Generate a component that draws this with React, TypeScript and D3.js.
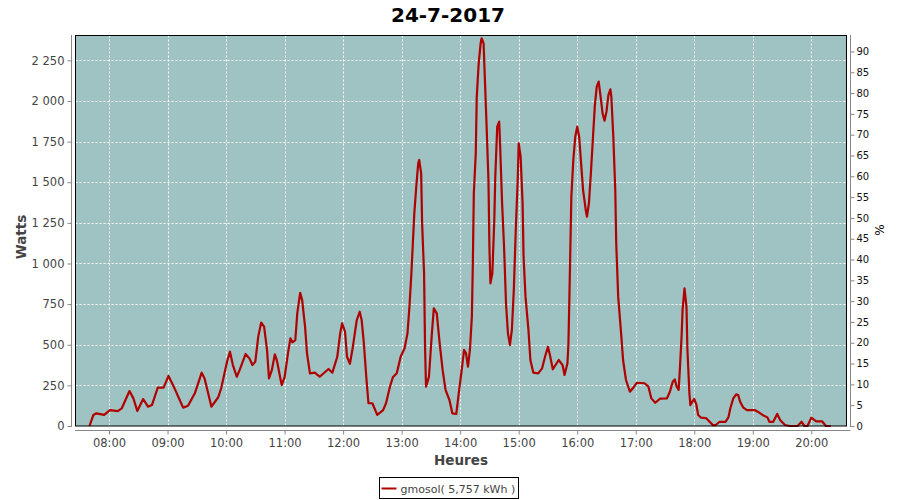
import { useEffect, useRef } from "react";
import * as d3 from "d3";

const chartTitle = "24-7-2017";
const legendLabel = "gmosol( 5,757 kWh )";

// one reading per entry: clock time and power in watts
const times = [
  "07:40", "07:44", "07:47", "07:55", "08:01", "08:09", "08:13", "08:21", "08:25", "08:29",
  "08:35", "08:40", "08:44", "08:50", "08:56", "09:01", "09:08", "09:11", "09:16", "09:21",
  "09:28", "09:35", "09:38", "09:45", "09:52", "09:55", "10:01", "10:04", "10:07", "10:11",
  "10:14", "10:20", "10:24", "10:27", "10:30", "10:33", "10:36", "10:39", "10:42", "10:44",
  "10:47", "10:50", "10:52", "10:57", "11:00", "11:04", "11:06", "11:08", "11:11", "11:13",
  "11:16", "11:18", "11:21", "11:23", "11:26", "11:31", "11:36", "11:45", "11:49", "11:54",
  "11:57", "11:59", "12:02", "12:04", "12:07", "12:10", "12:14", "12:17", "12:19", "12:21",
  "12:24", "12:26", "12:30", "12:35", "12:41", "12:44", "12:48", "12:51", "12:55", "12:59",
  "13:03", "13:06", "13:08", "13:10", "13:11", "13:13", "13:15", "13:17", "13:18", "13:20",
  "13:21", "13:23", "13:24", "13:25", "13:28", "13:31", "13:33", "13:36", "13:39", "13:42",
  "13:45", "13:49", "13:52", "13:56", "13:59", "14:02", "14:04", "14:06", "14:08", "14:10",
  "14:12", "14:13", "14:14", "14:16", "14:17", "14:19", "14:21", "14:22", "14:24", "14:25",
  "14:27", "14:29", "14:30", "14:31", "14:33", "14:35", "14:36", "14:38", "14:40", "14:41",
  "14:43", "14:45", "14:47", "14:49", "14:51", "14:53", "14:55", "14:57", "14:59", "15:00",
  "15:02", "15:04", "15:05", "15:07", "15:10", "15:12", "15:15", "15:20", "15:24", "15:27",
  "15:30", "15:32", "15:35", "15:41", "15:45", "15:47", "15:50", "15:51", "15:52", "15:53",
  "15:54", "15:56", "15:58", "16:00", "16:02", "16:04", "16:06", "16:09", "16:10", "16:12",
  "16:14", "16:16", "16:18", "16:20", "16:22", "16:24", "16:26", "16:28", "16:30", "16:32",
  "16:34", "16:35", "16:37", "16:39", "16:40", "16:42", "16:45", "16:47", "16:50", "16:54",
  "16:57", "17:01", "17:09", "17:13", "17:16", "17:20", "17:25", "17:32", "17:35", "17:38",
  "17:40", "17:42", "17:44", "17:45", "17:47", "17:48", "17:50", "17:52", "17:53", "17:55",
  "17:56", "17:58", "18:00", "18:02", "18:04", "18:07", "18:12", "18:19", "18:22", "18:26",
  "18:32", "18:35", "18:37", "18:40", "18:43", "18:45", "18:47", "18:50", "18:54", "19:02",
  "19:05", "19:10", "19:15", "19:17", "19:21", "19:25", "19:28", "19:33", "19:38", "19:46",
  "19:50", "19:53", "19:56", "20:00", "20:05", "20:11", "20:15", "20:20",
];
const watts = [
  0, 68, 78, 68, 98, 92, 108, 215, 170, 92,
  166, 119, 129, 236, 236, 308, 221, 180, 113, 125,
  201, 328, 293, 119, 177, 232, 396, 457, 375, 303,
  345, 443, 416, 375, 396, 550, 636, 611, 468, 293,
  345, 441, 406, 252, 300, 468, 540, 515, 529, 693,
  820, 775, 611, 447, 324, 328, 303, 351, 328, 426,
  570, 632, 580, 426, 382, 488, 652, 703, 652, 529,
  283, 140, 140, 68, 98, 140, 242, 300, 324, 426,
  478, 570, 734, 940, 1063, 1309, 1473, 1617, 1637, 1555,
  1247, 940, 488, 242, 303, 570, 724, 693, 509, 345,
  222, 160, 78, 74, 222, 365, 468, 447, 365, 468,
  673, 1001, 1432, 1678, 2026, 2232, 2355, 2386, 2355, 2191,
  1863, 1514, 1103, 878, 940, 1268, 1534, 1842, 1873, 1719,
  1370, 1103, 755, 570, 498, 591, 837, 1206, 1514, 1740,
  1657, 1370, 1042, 796, 591, 406, 328, 324, 355, 426,
  488, 437, 349, 406, 375, 314, 386, 509, 796, 1103,
  1411, 1637, 1780, 1842, 1780, 1617, 1452, 1319, 1288, 1370,
  1555, 1760, 1965, 2088, 2119, 2026, 1924, 1879, 1934, 2037,
  2072, 2026, 1780, 1452, 1124, 796, 570, 406, 283, 211,
  232, 266, 263, 242, 170, 143, 168, 170, 211, 273,
  287, 242, 222, 324, 550, 714, 847, 734, 468, 201,
  129, 150, 166, 135, 68, 51, 49, 6, 6, 26,
  26, 53, 109, 170, 195, 191, 150, 115, 98, 98,
  88, 68, 53, 26, 26, 74, 37, 6, 0, 0,
  26, 0, 0, 51, 29, 29, 0, 0,
];

const wattTicks = [0, 250, 500, 750, 1000, 1250, 1500, 1750, 2000, 2250];
const pctTicks = [0, 5, 10, 15, 20, 25, 30, 35, 40, 45, 50, 55, 60, 65, 70, 75, 80, 85, 90];
const hourTicks = ["08:00", "09:00", "10:00", "11:00", "12:00", "13:00", "14:00", "15:00", "16:00", "17:00", "18:00", "19:00", "20:00"];

const toDate = (s: string) => {
  const [h, m] = s.split(":").map(Number);
  return new Date(2017, 6, 24, h, m);
};

const W = 900;
const H = 500;
const plot = { left: 75.5, right: 846.5, top: 35.5, bottom: 426 };
const bg = "#9ec3c2";
const red = "#b00000";
const grey = "#444";
const font = "DejaVu Sans, sans-serif";

export default function App() {
  const ref = useRef<SVGSVGElement>(null);
  useEffect(() => {
    document.body.style.margin = "0";
    if (!ref.current) return;
    const svg = d3.select(ref.current);
    svg.selectAll("*").remove();

    const x = d3.scaleTime()
      .domain([new Date(2017, 6, 24, 7, 25, 39), new Date(2017, 6, 24, 20, 36, 4)])
      .range([plot.left, plot.right]);
    const y = d3.scaleLinear().domain([0, 2406]).range([plot.bottom, plot.top - 0.5]);
    const yPct = d3.scaleLinear().domain([0, 93.95]).range([plot.bottom, plot.top - 0.5]);
    const fmt = d3.formatLocale({ decimal: ",", thousands: " ", grouping: [3], currency: ["", ""] }).format(",d");

    const data = times.map((t, i) => ({ t: toDate(t), w: watts[i] }));
    const hours = hourTicks.map(toDate);

    svg.append("rect")
      .attr("x", plot.left).attr("y", plot.top)
      .attr("width", plot.right - plot.left).attr("height", plot.bottom - plot.top)
      .attr("fill", bg);

    // grid
    const grid = svg.append("g").attr("stroke", "#fff").attr("stroke-width", 1).attr("stroke-dasharray", "2,2");
    grid.selectAll("line.v").data(hours).join("line")
      .attr("x1", (d) => Math.round(x(d)) + 0.5).attr("x2", (d) => Math.round(x(d)) + 0.5)
      .attr("y1", plot.top).attr("y2", plot.bottom);
    grid.selectAll("line.h").data(wattTicks.slice(1)).join("line")
      .attr("x1", plot.left).attr("x2", plot.right)
      .attr("y1", (d) => Math.round(y(d)) + 0.5).attr("y2", (d) => Math.round(y(d)) + 0.5);

    // series
    const line = d3.line<{ t: Date; w: number }>().x((d) => x(d.t)).y((d) => y(d.w));
    svg.append("path")
      .datum(data)
      .attr("fill", "none")
      .attr("stroke", red)
      .attr("stroke-width", 2.2)
      .attr("stroke-linejoin", "round")
      .attr("d", line);

    svg.append("rect")
      .attr("x", plot.left).attr("y", plot.top)
      .attr("width", plot.right - plot.left).attr("height", plot.bottom - plot.top)
      .attr("fill", "none").attr("stroke", "#000").attr("stroke-width", 1);

    // left axis
    svg.append("g")
      .attr("transform", "translate(71.5,0)")
      .call(d3.axisLeft(y).tickValues(wattTicks).tickSize(4).tickPadding(3).tickFormat((d) => fmt(+d)))
      .call((g) => g.select(".domain").attr("stroke", "#888").attr("d", `M0,${plot.top - 0.5}V${plot.bottom + 1}`))
      .call((g) => g.selectAll(".tick line").attr("stroke", "#888"))
      .call((g) => g.selectAll("text").attr("font-family", font).attr("font-size", 11.5).attr("fill", grey));

    // right axis
    svg.append("g")
      .attr("transform", "translate(850.5,0)")
      .call(d3.axisRight(yPct).tickValues(pctTicks).tickSize(4).tickPadding(2))
      .call((g) => g.select(".domain").attr("stroke", "#888").attr("d", `M0,${plot.top - 0.5}V${plot.bottom + 1}`))
      .call((g) => g.selectAll(".tick line").attr("stroke", "#888"))
      .call((g) => g.selectAll("text").attr("font-family", font).attr("font-size", 10).attr("fill", "#111"));

    // bottom axis
    svg.append("g")
      .attr("transform", "translate(0,430.5)")
      .call(d3.axisBottom(x).tickValues(hours).tickSize(4).tickPadding(4).tickFormat(d3.timeFormat("%H:%M") as any))
      .call((g) => g.select(".domain").attr("stroke", "#888").attr("d", `M${plot.left - 0.5},0H${plot.right + 4}`))
      .call((g) => g.selectAll(".tick line").attr("stroke", "#888"))
      .call((g) => g.selectAll("text").attr("font-family", font).attr("font-size", 11.5).attr("fill", grey));

    // titles
    svg.append("text")
      .attr("x", 448).attr("y", 22)
      .attr("text-anchor", "middle")
      .attr("font-family", font).attr("font-weight", "bold").attr("font-size", 20)
      .attr("fill", "#000")
      .text(chartTitle);
    svg.append("text")
      .attr("x", (plot.left + plot.right) / 2).attr("y", 465)
      .attr("text-anchor", "middle")
      .attr("font-family", font).attr("font-weight", "bold").attr("font-size", 13.5)
      .attr("fill", grey)
      .text("Heures");
    svg.append("text")
      .attr("transform", "translate(26,237) rotate(-90)")
      .attr("text-anchor", "middle")
      .attr("font-family", font).attr("font-weight", "bold").attr("font-size", 13.5)
      .attr("fill", grey)
      .text("Watts");
    svg.append("text")
      .attr("transform", "translate(884,230) rotate(-90)")
      .attr("text-anchor", "middle")
      .attr("font-family", font).attr("font-size", 12)
      .attr("fill", "#000")
      .text("%");

    // legend
    const lg = svg.append("g").attr("transform", "translate(379.5,477.5)");
    lg.append("rect").attr("width", 139).attr("height", 21).attr("fill", "#fff").attr("stroke", "#000");
    lg.append("line").attr("x1", 2).attr("x2", 17).attr("y1", 11).attr("y2", 11).attr("stroke", red).attr("stroke-width", 2);
    lg.append("text")
      .attr("x", 21).attr("y", 15)
      .attr("font-family", font).attr("font-size", 11)
      .attr("fill", grey)
      .text(legendLabel);
  }, []);
  return <svg ref={ref} width={W} height={H} style={{ display: "block", background: "#fff" }} />;
}
